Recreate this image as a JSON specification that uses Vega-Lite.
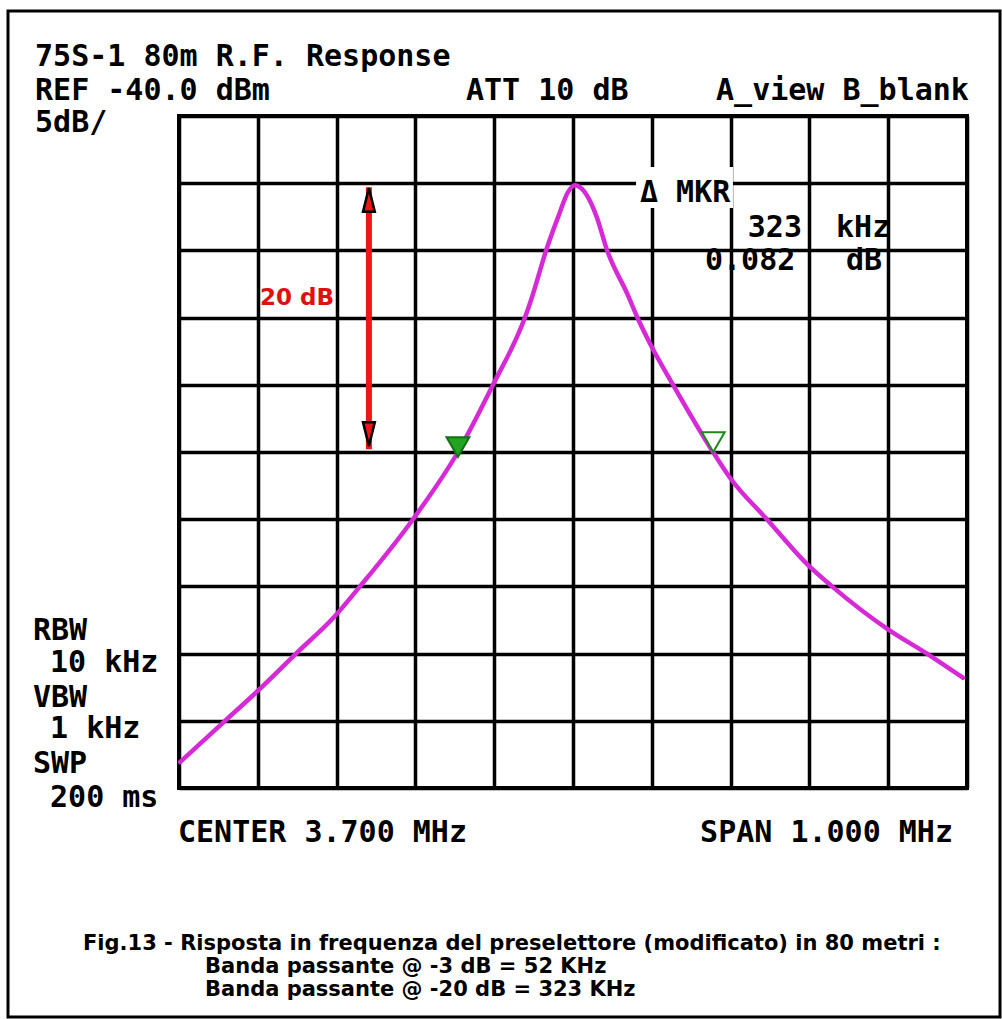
{
  "$schema": "https://vega.github.io/schema/vega-lite/v6.json",
  "width": 788,
  "height": 672,
  "autosize": {"type": "none"},
  "padding": {"left": 179, "top": 116, "right": 35, "bottom": 231},
  "background": "white",
  "config": {
    "view": {"stroke": "black", "strokeWidth": 4},
    "axis": {"labels": false, "ticks": false, "domain": false, "title": null, "grid": true, "gridColor": "black", "gridWidth": 3.5, "gridOpacity": 1}
  },
  "datasets": {
    "trace": [
      {"f": 3.2013, "lvl": -88.07},
      {"f": 3.2584, "lvl": -85.0},
      {"f": 3.2995, "lvl": -82.8},
      {"f": 3.3485, "lvl": -80.0},
      {"f": 3.398, "lvl": -77.2},
      {"f": 3.4297, "lvl": -75.0},
      {"f": 3.497, "lvl": -70.0},
      {"f": 3.554, "lvl": -65.0},
      {"f": 3.5985, "lvl": -60.0},
      {"f": 3.639, "lvl": -55.0},
      {"f": 3.6468, "lvl": -53.69},
      {"f": 3.6665, "lvl": -49.9},
      {"f": 3.6813, "lvl": -47.49},
      {"f": 3.694, "lvl": -45.63},
      {"f": 3.7025, "lvl": -45.15},
      {"f": 3.711, "lvl": -45.4},
      {"f": 3.73, "lvl": -47.49},
      {"f": 3.7427, "lvl": -49.9},
      {"f": 3.7702, "lvl": -53.4},
      {"f": 3.781, "lvl": -54.9},
      {"f": 3.798, "lvl": -56.96},
      {"f": 3.827, "lvl": -60.0},
      {"f": 3.8777, "lvl": -65.0},
      {"f": 3.899, "lvl": -66.9},
      {"f": 3.946, "lvl": -70.0},
      {"f": 3.998, "lvl": -73.4},
      {"f": 4.0287, "lvl": -75.0},
      {"f": 4.0997, "lvl": -78.2},
      {"f": 4.149, "lvl": -80.0},
      {"f": 4.195, "lvl": -81.8}
    ],
    "monoLeft": [
      {"f": 3.0173, "lvl": -36.28, "t": "75S-1  80m R.F. Response"},
      {"f": 3.0173, "lvl": -38.81, "t": "REF -40.0 dBm"},
      {"f": 3.5642, "lvl": -38.81, "t": "ATT 10 dB"},
      {"f": 3.8815, "lvl": -38.81, "t": "A_view B_blank"},
      {"f": 3.0173, "lvl": -41.19, "t": "5dB/"},
      {"f": 3.785, "lvl": -46.4, "t": "Δ MKR"},
      {"f": 4.0338, "lvl": -49.0, "t": "kHz"},
      {"f": 3.8675, "lvl": -51.46, "t": "0.082"},
      {"f": 4.0464, "lvl": -51.46, "t": "dB"},
      {"f": 3.0147, "lvl": -78.99, "t": "RBW"},
      {"f": 3.0363, "lvl": -81.37, "t": "10 kHz"},
      {"f": 3.0147, "lvl": -83.97, "t": "VBW"},
      {"f": 3.0363, "lvl": -86.28, "t": "1 kHz"},
      {"f": 3.0147, "lvl": -88.88, "t": "SWP"},
      {"f": 3.0363, "lvl": -91.41, "t": "200 ms"},
      {"f": 3.1987, "lvl": -94.02, "t": "CENTER 3.700 MHz"}
    ],
    "monoRight": [
      {"f": 3.9906, "lvl": -49.0, "t": "323"},
      {"f": 4.1822, "lvl": -94.02, "t": "SPAN 1.000 MHz"}
    ],
    "caption": [
      {"f": 3.0782, "lvl": -102.05, "t": "Fig.13 - Risposta in frequenza  del preselettore (modificato) in 80 metri :"},
      {"f": 3.233, "lvl": -103.76, "t": "Banda passante @ -3 dB = 52 KHz"},
      {"f": 3.233, "lvl": -105.48, "t": "Banda passante @ -20 dB = 323 KHz"}
    ],
    "redLabel": [{"f": 3.3028, "lvl": -54.06, "t": "20 dB"}],
    "arrow": [{"f": 3.441, "lvl": -45.3, "lvl2": -64.8}],
    "heads": [
      {"f": 3.441, "lvl": -46.25, "dir": "up"},
      {"f": 3.441, "lvl": -63.66, "dir": "down"}
    ],
    "markers": [
      {"f": 3.554, "lvl": -64.63, "kind": "filled"},
      {"f": 3.878, "lvl": -64.26, "kind": "open"}
    ],
    "mask": [{"f": 3.78, "f2": 3.903, "lvl": -43.79, "lvl2": -46.85}],
    "frame": [{"f": 2.983, "f2": 4.2419, "lvl": -32.19, "lvl2": -107.04}]
  },
  "encoding": {
    "x": {"field": "f", "type": "quantitative", "scale": {"domain": [3.2, 4.2], "nice": false, "zero": false},
      "axis": {"values": [3.2, 3.3, 3.4, 3.5, 3.6, 3.7, 3.8, 3.9, 4.0, 4.1, 4.2]}},
    "y": {"field": "lvl", "type": "quantitative", "scale": {"domain": [-90, -40], "nice": false, "zero": false},
      "axis": {"values": [-90, -85, -80, -75, -70, -65, -60, -55, -50, -45, -40]}}
  },
  "layer": [
    {
      "data": {"name": "frame"},
      "mark": {"type": "rect", "fill": "white", "fillOpacity": 0, "stroke": "black", "strokeWidth": 3},
      "encoding": {"x2": {"field": "f2"}, "y2": {"field": "lvl2"}}
    },
    {
      "data": {"name": "mask"},
      "mark": {"type": "rect", "fill": "white", "stroke": null},
      "encoding": {"x2": {"field": "f2"}, "y2": {"field": "lvl2"}}
    },
    {
      "data": {"name": "trace"},
      "mark": {"type": "line", "color": "#d62ad6", "strokeWidth": 4.5, "strokeJoin": "round", "strokeCap": "round", "interpolate": "monotone"}
    },
    {
      "data": {"name": "arrow"},
      "mark": {"type": "rule", "color": "#f01414", "strokeWidth": 6},
      "encoding": {"y2": {"field": "lvl2"}}
    },
    {
      "data": {"name": "heads"},
      "mark": {"type": "point", "filled": false, "fill": "#f01414", "fillOpacity": 1, "stroke": "black", "strokeWidth": 2.5, "opacity": 1, "size": 560},
      "encoding": {
        "shape": {"field": "dir", "type": "nominal", "legend": null,
          "scale": {"domain": ["up", "down"], "range": ["M0,-1L0.5,1L-0.5,1Z", "M0,1L0.5,-1L-0.5,-1Z"]}}
      }
    },
    {
      "data": {"name": "markers"},
      "mark": {"type": "point", "shape": "triangle-down", "strokeWidth": 2, "opacity": 1, "fillOpacity": 1, "size": 520},
      "encoding": {
        "fill": {"field": "kind", "type": "nominal", "legend": null, "scale": {"domain": ["filled", "open"], "range": ["#22a322", "#ffffff"]}},
        "stroke": {"field": "kind", "type": "nominal", "legend": null, "scale": {"domain": ["filled", "open"], "range": ["#137013", "#1a8a1a"]}}
      }
    },
    {
      "data": {"name": "monoLeft"},
      "mark": {"type": "text", "font": "DejaVu Sans Mono", "fontSize": 30, "fontWeight": "bold", "align": "left", "baseline": "alphabetic", "color": "black"},
      "encoding": {"text": {"field": "t"}}
    },
    {
      "data": {"name": "monoRight"},
      "mark": {"type": "text", "font": "DejaVu Sans Mono", "fontSize": 30, "fontWeight": "bold", "align": "right", "baseline": "alphabetic", "color": "black"},
      "encoding": {"text": {"field": "t"}}
    },
    {
      "data": {"name": "caption"},
      "mark": {"type": "text", "font": "DejaVu Sans", "fontSize": 21, "fontWeight": "bold", "align": "left", "baseline": "alphabetic", "color": "black"},
      "encoding": {"text": {"field": "t"}}
    },
    {
      "data": {"name": "redLabel"},
      "mark": {"type": "text", "font": "DejaVu Sans", "fontSize": 23, "fontWeight": "bold", "align": "left", "baseline": "alphabetic", "color": "#e01010"},
      "encoding": {"text": {"field": "t"}}
    }
  ]
}
